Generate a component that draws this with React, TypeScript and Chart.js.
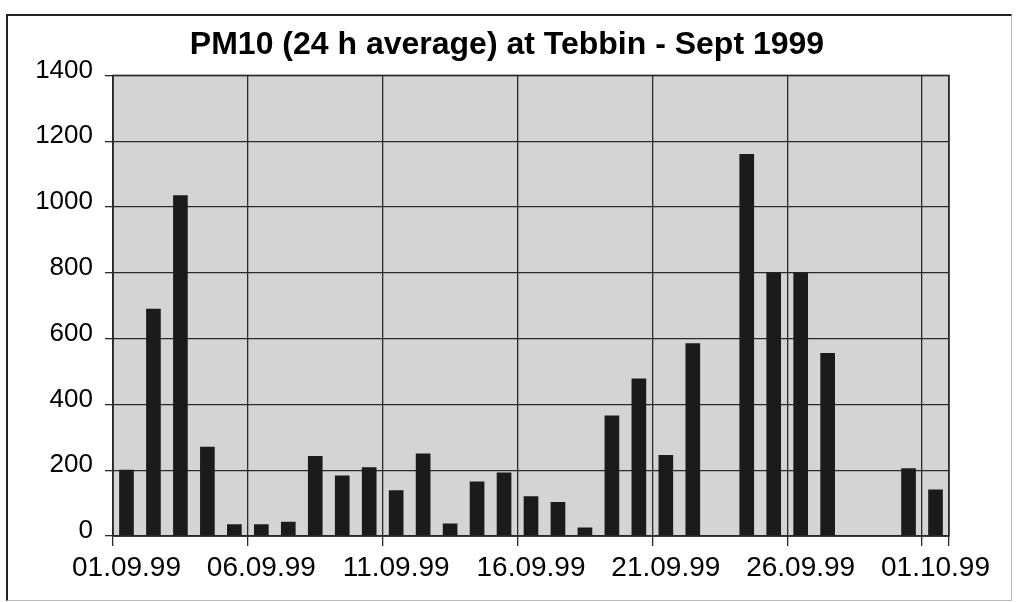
import React, { useEffect, useRef } from "react";
import { Chart, registerables } from "chart.js";

Chart.register(...registerables);

const titleText = "PM10 (24 h average) at Tebbin - Sept 1999";

const dayLabels = [
  "01.09.99", "02.09.99", "03.09.99", "04.09.99", "05.09.99",
  "06.09.99", "07.09.99", "08.09.99", "09.09.99", "10.09.99",
  "11.09.99", "12.09.99", "13.09.99", "14.09.99", "15.09.99",
  "16.09.99", "17.09.99", "18.09.99", "19.09.99", "20.09.99",
  "21.09.99", "22.09.99", "23.09.99", "24.09.99", "25.09.99",
  "26.09.99", "27.09.99", "28.09.99", "29.09.99", "30.09.99",
  "01.10.99",
];

const pm10Values: (number | null)[] = [
  200, 690, 1035, 270, 35,
  35, 42, 242, 183, 208,
  138, 250, 37, 165, 192,
  120, 102, 25, 365, 478,
  245, 585, null, 1160, 800,
  800, 555, null, null, 205,
  140,
];

const yMin = 0;
const yMax = 1400;
const yStep = 200;
const labelEvery = 5;

const FONT = "'Liberation Sans', Arial, sans-serif";
const GRID = "#2a2a2a";

export default function App() {
  const ref = useRef<HTMLCanvasElement>(null);

  useEffect(() => {
    if (!ref.current) return;
    const plotBg = {
      id: "plotBg",
      beforeDraw(chart: any) {
        const { ctx, chartArea: a } = chart;
        ctx.save();
        ctx.fillStyle = "#d4d4d4";
        ctx.fillRect(a.left, a.top, a.right - a.left, a.bottom - a.top);
        ctx.restore();
      },
    };
    const frame = {
      id: "frame",
      afterDraw(chart: any) {
        const { ctx, chartArea: a } = chart;
        ctx.save();
        ctx.strokeStyle = GRID;
        ctx.lineWidth = 1.5;
        ctx.strokeRect(a.left, a.top, a.right - a.left, a.bottom - a.top);
        ctx.restore();
      },
    };
    const xGridColor = (c: any) =>
      c.index === undefined || c.index % labelEvery === 0 ? GRID : "rgba(0,0,0,0)";

    const chart = new Chart(ref.current, {
      type: "bar",
      data: {
        labels: dayLabels,
        datasets: [
          {
            data: pm10Values,
            backgroundColor: "#1b1b1b",
            borderWidth: 0,
            barThickness: 14,
          },
        ],
      },
      options: {
        animation: false,
        responsive: false,
        maintainAspectRatio: false,
        layout: { padding: { left: 10, right: 13, top: 10, bottom: 8 } },
        plugins: {
          legend: { display: false },
          tooltip: { enabled: false },
          title: {
            display: true,
            text: titleText,
            color: "#000",
            font: { family: FONT, size: 32, weight: "bold" },
            padding: { top: 16, bottom: 11 },
          },
        },
        scales: {
          x: {
            offset: true,
            grid: {
              offset: true,
              color: xGridColor,
              tickColor: xGridColor,
              lineWidth: 1.3,
              tickLength: 10,
            },
            border: { color: GRID, width: 1.5 },
            ticks: {
              autoSkip: false,
              maxRotation: 0,
              minRotation: 0,
              color: "#000",
              padding: 5,
              font: { family: FONT, size: 28 },
              callback: (_v: any, i: number) => (i % labelEvery === 0 ? dayLabels[i] : ""),
            },
            afterFit(s: any) {
              s.height = 58;
            },
          },
          y: {
            min: yMin,
            max: yMax,
            grid: { color: GRID, lineWidth: 1.3, tickLength: 8 },
            border: { color: GRID, width: 1.5 },
            ticks: {
              stepSize: yStep,
              color: "#000",
              padding: 12,
              labelOffset: -5,
              font: { family: FONT, size: 26 },
              callback: (v: any) => String(v),
            },
            afterFit(s: any) {
              s.width = 103;
            },
          },
          yRight: {
            position: "right",
            min: yMin,
            max: yMax,
            grid: { display: false, drawOnChartArea: false },
            border: { display: false },
            ticks: { display: false },
            afterFit(s: any) {
              s.width = 55;
            },
          },
        },
      },
      plugins: [plotBg, frame],
    } as any);
    return () => chart.destroy();
  }, []);

  return (
    <div
      style={{
        position: "fixed",
        left: 0,
        top: 0,
        width: 1017,
        height: 602,
        background: "#fff",
      }}
    >
      <div
        style={{
          position: "absolute",
          left: 6,
          top: 14,
          width: 1003,
          height: 584,
          borderTop: "2px solid #222",
          borderLeft: "2px solid #222",
          borderRight: "1px solid #bbb",
          borderBottom: "1px solid #bbb",
        }}
      />
      <canvas
        ref={ref}
        width={1017}
        height={602}
        style={{ position: "absolute", left: 0, top: 0 }}
      />
    </div>
  );
}
